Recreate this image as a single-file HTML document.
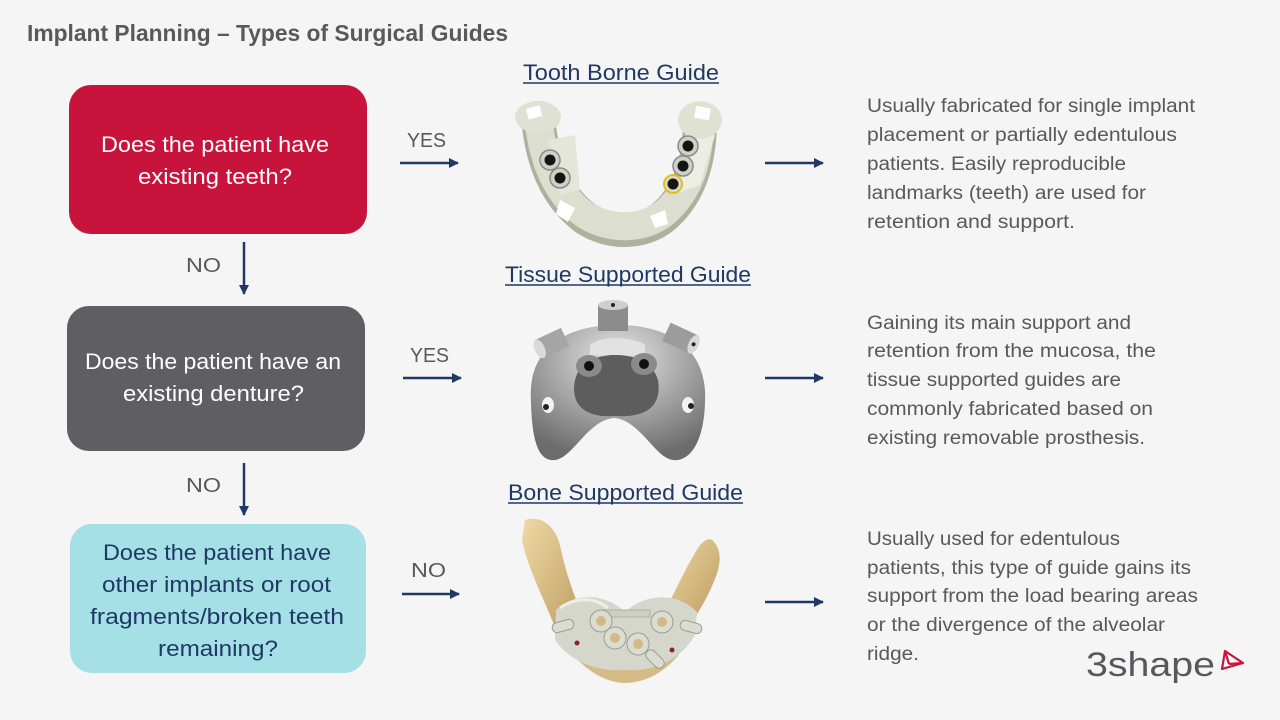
<!DOCTYPE html>
<html>
<head>
<meta charset="utf-8">
<style>
  html,body{margin:0;padding:0;background:#f5f5f5;}
  body{width:1280px;height:720px;overflow:hidden;}
  svg{display:block;}
  text{font-family:"Liberation Sans",sans-serif;}
</style>
</head>
<body>
<svg width="1280" height="720" viewBox="0 0 1280 720" xmlns="http://www.w3.org/2000/svg">
  <defs>
    <marker id="ah" viewBox="0 0 10 10" refX="9" refY="5" markerWidth="4" markerHeight="4" orient="auto" markerUnits="strokeWidth">
      <path d="M0,0 L10,5 L0,10 Z" fill="#1f3864"/>
    </marker>
    <radialGradient id="tg" cx="50%" cy="25%" r="75%">
      <stop offset="0" stop-color="#e6e6e6"/>
      <stop offset="0.5" stop-color="#a9a9a9"/>
      <stop offset="1" stop-color="#6c6c6c"/>
    </radialGradient>
    <linearGradient id="bone" x1="0" y1="0" x2="1" y2="1">
      <stop offset="0" stop-color="#efd9a4"/>
      <stop offset="1" stop-color="#b99a5e"/>
    </linearGradient>
  </defs>

  <rect width="1280" height="720" fill="#f5f5f5"/>

  <!-- Title -->
  <text x="27" y="41" font-size="23" font-weight="bold" fill="#595959" textLength="481" lengthAdjust="spacingAndGlyphs">Implant Planning – Types of Surgical Guides</text>

  <!-- Boxes -->
  <rect x="69" y="85" width="298" height="149" rx="22" fill="#c8143c"/>
  <text x="101" y="152" font-size="22" fill="#ffffff" textLength="228" lengthAdjust="spacingAndGlyphs">Does the patient have</text>
  <text x="138" y="184" font-size="22" fill="#ffffff" textLength="154" lengthAdjust="spacingAndGlyphs">existing teeth?</text>

  <rect x="67" y="306" width="298" height="145" rx="22" fill="#5f5e63"/>
  <text x="85" y="369" font-size="22" fill="#ffffff" textLength="256" lengthAdjust="spacingAndGlyphs">Does the patient have an</text>
  <text x="123" y="401" font-size="22" fill="#ffffff" textLength="181" lengthAdjust="spacingAndGlyphs">existing denture?</text>

  <rect x="70" y="524" width="296" height="149" rx="22" fill="#a6e0e7"/>
  <text x="103" y="560" font-size="22" fill="#1f3864" textLength="228" lengthAdjust="spacingAndGlyphs">Does the patient have</text>
  <text x="102" y="592" font-size="22" fill="#1f3864" textLength="229" lengthAdjust="spacingAndGlyphs">other implants or root</text>
  <text x="90" y="624" font-size="22" fill="#1f3864" textLength="254" lengthAdjust="spacingAndGlyphs">fragments/broken teeth</text>
  <text x="158" y="656" font-size="22" fill="#1f3864" textLength="120" lengthAdjust="spacingAndGlyphs">remaining?</text>

  <!-- Labels -->
  <text x="407" y="147" font-size="20" fill="#595959" textLength="39" lengthAdjust="spacingAndGlyphs">YES</text>
  <text x="410" y="362" font-size="20" fill="#595959" textLength="39" lengthAdjust="spacingAndGlyphs">YES</text>
  <text x="411" y="577" font-size="20" fill="#595959" textLength="35" lengthAdjust="spacingAndGlyphs">NO</text>
  <text x="186" y="272" font-size="20" fill="#595959" textLength="35" lengthAdjust="spacingAndGlyphs">NO</text>
  <text x="186" y="492" font-size="20" fill="#595959" textLength="35" lengthAdjust="spacingAndGlyphs">NO</text>

  <!-- Arrows -->
  <g stroke="#1f3864" stroke-width="2.5" fill="none" marker-end="url(#ah)">
    <line x1="400" y1="163" x2="458" y2="163"/>
    <line x1="403" y1="378" x2="461" y2="378"/>
    <line x1="402" y1="594" x2="459" y2="594"/>
    <line x1="765" y1="163" x2="823" y2="163"/>
    <line x1="765" y1="378" x2="823" y2="378"/>
    <line x1="765" y1="602" x2="823" y2="602"/>
    <line x1="244" y1="242" x2="244" y2="294"/>
    <line x1="244" y1="463" x2="244" y2="515"/>
  </g>

  <!-- Headings -->
  <text x="523" y="80" font-size="22" fill="#1f3864" textLength="196" lengthAdjust="spacingAndGlyphs">Tooth Borne Guide</text>
  <line x1="523" y1="83" x2="719" y2="83" stroke="#1f3864" stroke-width="1.5"/>
  <text x="505" y="282" font-size="22" fill="#1f3864" textLength="246" lengthAdjust="spacingAndGlyphs">Tissue Supported Guide</text>
  <line x1="505" y1="285" x2="751" y2="285" stroke="#1f3864" stroke-width="1.5"/>
  <text x="508" y="500" font-size="22" fill="#1f3864" textLength="235" lengthAdjust="spacingAndGlyphs">Bone Supported Guide</text>
  <line x1="508" y1="503" x2="743" y2="503" stroke="#1f3864" stroke-width="1.5"/>

  <!-- Descriptions -->
  <g font-size="19" fill="#595959">
    <text x="867" y="112" textLength="328" lengthAdjust="spacingAndGlyphs">Usually fabricated  for single implant</text>
    <text x="867" y="141" textLength="310" lengthAdjust="spacingAndGlyphs">placement or partially edentulous</text>
    <text x="867" y="170" textLength="259" lengthAdjust="spacingAndGlyphs">patients. Easily reproducible</text>
    <text x="867" y="199" textLength="279" lengthAdjust="spacingAndGlyphs">landmarks (teeth) are used for</text>
    <text x="867" y="228" textLength="208" lengthAdjust="spacingAndGlyphs">retention and support.</text>

    <text x="867" y="329" textLength="264" lengthAdjust="spacingAndGlyphs">Gaining its main support and</text>
    <text x="867" y="357" textLength="289" lengthAdjust="spacingAndGlyphs">retention from the mucosa, the</text>
    <text x="867" y="386" textLength="254" lengthAdjust="spacingAndGlyphs">tissue supported guides are</text>
    <text x="867" y="415" textLength="286" lengthAdjust="spacingAndGlyphs">commonly fabricated based on</text>
    <text x="867" y="444" textLength="278" lengthAdjust="spacingAndGlyphs">existing removable prosthesis.</text>

    <text x="867" y="545" textLength="253" lengthAdjust="spacingAndGlyphs">Usually used for edentulous</text>
    <text x="867" y="574" textLength="324" lengthAdjust="spacingAndGlyphs">patients, this type of guide gains its</text>
    <text x="867" y="602" textLength="331" lengthAdjust="spacingAndGlyphs">support from the load bearing areas</text>
    <text x="867" y="631" textLength="298" lengthAdjust="spacingAndGlyphs">or the divergence of the alveolar</text>
    <text x="867" y="660" textLength="52" lengthAdjust="spacingAndGlyphs">ridge.</text>
  </g>

  <!-- Tooth borne guide illustration -->
  <g>
    <path d="M538,118 C542,160 555,195 585,218 C610,234 640,234 662,218 C690,195 700,160 700,120" fill="none" stroke="#aeb19e" stroke-width="34" stroke-linecap="round"/>
    <path d="M538,116 C542,158 555,193 585,215 C610,230 640,230 662,215 C690,193 700,158 700,118" fill="none" stroke="#dcdfcf" stroke-width="28" stroke-linecap="round"/>
    <polygon points="548,140 575,135 580,190 560,195" fill="#e4e6da"/>
    <polygon points="688,130 715,135 700,185 672,195" fill="#eceee4"/>
    <ellipse cx="538" cy="117" rx="23" ry="16" fill="#dfe1d2"/>
    <ellipse cx="700" cy="120" rx="22" ry="19" fill="#dfe1d2"/>
    <rect x="527" y="107" width="14" height="11" fill="#ffffff" transform="rotate(-15 534 112)"/>
    <rect x="695" y="107" width="15" height="12" fill="#ffffff" transform="rotate(10 702 113)"/>
    <polygon points="560,200 575,208 568,222 556,214" fill="#ffffff"/>
    <polygon points="650,216 665,210 668,224 655,228" fill="#ffffff"/>
    <g>
      <circle cx="550" cy="160" r="10" fill="#cfd1c4" stroke="#8a8a8a" stroke-width="1.5"/>
      <circle cx="550" cy="160" r="5.5" fill="#151515"/>
      <circle cx="560" cy="178" r="10" fill="#cfd1c4" stroke="#8a8a8a" stroke-width="1.5"/>
      <circle cx="560" cy="178" r="5.5" fill="#151515"/>
      <circle cx="688" cy="146" r="10" fill="#cfd1c4" stroke="#8a8a8a" stroke-width="1.5"/>
      <circle cx="688" cy="146" r="5.5" fill="#151515"/>
      <circle cx="683" cy="166" r="10" fill="#cfd1c4" stroke="#8a8a8a" stroke-width="1.5"/>
      <circle cx="683" cy="166" r="5.5" fill="#151515"/>
      <circle cx="673" cy="184" r="9" fill="#d8dbcc" stroke="#e0c020" stroke-width="2"/>
      <circle cx="673" cy="184" r="5.5" fill="#151515"/>
    </g>
  </g>

  <!-- Tissue supported guide illustration -->
  <g>
    <path d="M531,402 C527,345 570,325 617,325 C665,325 708,345 705,402 C704,442 690,462 673,460 C655,458 640,420 614,418 C588,420 573,458 555,460 C538,462 532,440 531,402 Z" fill="url(#tg)"/>
    <path d="M575,380 C580,360 600,355 615,355 C632,355 652,360 658,380 C662,405 648,418 615,416 C585,418 570,405 575,380 Z" fill="#5d5d5d"/>
    <path d="M590,345 C600,336 632,336 645,345 L645,355 L590,355 Z" fill="#e2e2e2"/>
    <ellipse cx="589" cy="366" rx="13" ry="11" fill="#8a8a8a"/>
    <ellipse cx="589" cy="366" rx="5" ry="5" fill="#111"/>
    <ellipse cx="644" cy="364" rx="13" ry="11" fill="#8a8a8a"/>
    <ellipse cx="644" cy="364" rx="5" ry="5" fill="#111"/>
    <ellipse cx="548" cy="405" rx="6" ry="8" fill="#f2f2f2"/>
    <ellipse cx="688" cy="405" rx="6" ry="8" fill="#f2f2f2"/>
    <circle cx="546" cy="407" r="3" fill="#222"/>
    <circle cx="691" cy="406" r="3" fill="#222"/>
    <!-- cylinders -->
    <rect x="598" y="305" width="30" height="26" fill="#8c8c8c"/>
    <ellipse cx="613" cy="305" rx="15" ry="5" fill="#cfcfcf"/>
    <circle cx="613" cy="305" r="2" fill="#222"/>
    <g transform="rotate(-25 552 342)">
      <rect x="538" y="333" width="28" height="20" fill="#a5a5a5"/>
      <ellipse cx="538" cy="343" rx="5" ry="10" fill="#dadada"/>
    </g>
    <g transform="rotate(25 680 338)">
      <rect x="665" y="328" width="30" height="20" fill="#9c9c9c"/>
      <ellipse cx="695" cy="338" rx="5" ry="10" fill="#d8d8d8"/>
      <circle cx="695" cy="338" r="2" fill="#222"/>
    </g>
  </g>

  <!-- Bone supported guide illustration -->
  <g>
    <path d="M525,520 C540,515 555,525 560,545 C565,570 575,600 585,620 L560,640 C545,600 528,570 522,540 Z" fill="url(#bone)"/>
    <path d="M712,540 C718,545 722,555 718,570 C712,590 700,610 690,625 L665,612 C675,590 690,560 700,545 C705,540 708,538 712,540 Z" fill="url(#bone)"/>
    <path d="M558,630 C570,660 600,683 625,683 C650,683 680,665 692,630 L670,625 C650,650 600,655 580,625 Z" fill="#d5bc87"/>
    <path d="M556,610 C575,592 605,593 625,612 C645,593 678,592 697,612 L695,635 C680,662 650,672 625,670 C598,672 570,662 555,640 Z" fill="#d6d7cc"/>
    <path d="M560,608 C575,597 595,597 608,608" fill="none" stroke="#eeeee6" stroke-width="3"/>
    <rect x="600" y="610" width="50" height="7" fill="#cfd0c4" stroke="#a9aa9e" stroke-width="0.8"/>
    <g fill="#dcddd2" stroke="#9c9d92" stroke-width="1">
      <rect x="552" y="621" width="22" height="10" rx="5" transform="rotate(-15 563 626)"/>
      <rect x="680" y="622" width="22" height="10" rx="5" transform="rotate(15 691 627)"/>
      <rect x="650" y="648" width="10" height="22" rx="5" transform="rotate(-45 655 659)"/>
      <circle cx="601" cy="621" r="11"/>
      <circle cx="615" cy="638" r="11"/>
      <circle cx="638" cy="644" r="11"/>
      <circle cx="662" cy="622" r="11"/>
    </g>
    <g fill="#d5b983">
      <circle cx="601" cy="621" r="5"/>
      <circle cx="615" cy="638" r="5"/>
      <circle cx="638" cy="644" r="5"/>
      <circle cx="662" cy="622" r="5"/>
    </g>
    <circle cx="577" cy="643" r="2.5" fill="#8a2030"/>
    <circle cx="672" cy="650" r="2.5" fill="#8a2030"/>
  </g>

  <!-- 3shape logo -->
  <text x="1086" y="676" font-size="34" fill="#58585a" textLength="129" lengthAdjust="spacingAndGlyphs">3shape</text>
  <g fill="none" stroke="#c8143c" stroke-width="2.2" stroke-linejoin="round">
    <polygon points="1225,651 1243,663 1222,669"/>
    <line x1="1225" y1="651" x2="1229" y2="664"/>
    <line x1="1229" y1="664" x2="1243" y2="663"/>
  </g>
</svg>
</body>
</html>
